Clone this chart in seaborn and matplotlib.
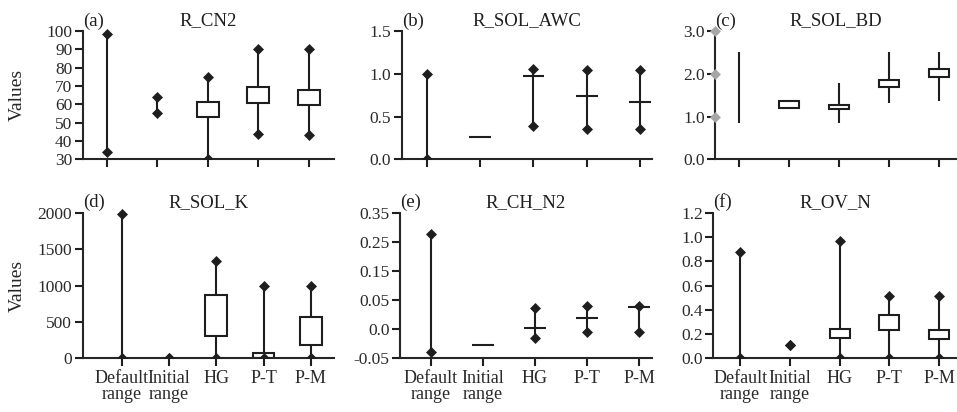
import numpy as np
import pandas as pd
import matplotlib
matplotlib.use("Agg")
import matplotlib.pyplot as plt
from matplotlib.transforms import Bbox, TransformedBbox
import seaborn as sns

nan = np.nan
groups = ["Default\nrange", "Initial\nrange", "HG", "P-T", "P-M"]

# (a) R_CN2 : whisker ends and box edges per group (nan = no box)
cn2_low = [34.2, 55.1, 30.0, 43.6, 43.3]
cn2_q1 = [nan, nan, 52.9, 60.9, 59.5]
cn2_q3 = [nan, nan, 61.4, 69.3, 67.8]
cn2_high = [98.2, 63.8, 75.1, 90.2, 90.0]
cn2_marked = [True, True, True, True, True]

# (b) R_SOL_AWC
awc_low = [0.0, 0.266, 0.39, 0.36, 0.36]
awc_q1 = [nan, 0.266, 0.977, 0.744, 0.668]
awc_q3 = [nan, 0.266, 0.977, 0.744, 0.668]
awc_high = [1.0, 0.266, 1.05, 1.04, 1.04]
awc_marked = [True, False, True, True, True]

# (c) R_SOL_BD
bd_low = [0.855, 1.19, 0.84, 1.32, 1.36]
bd_q1 = [nan, 1.19, 1.17, 1.70, 1.92]
bd_q3 = [nan, 1.36, 1.27, 1.85, 2.10]
bd_high = [2.51, 1.36, 1.79, 2.50, 2.50]
bd_marked = [False, False, False, False, False]
bd_axis_marks = [1.0, 2.0, 3.0]

# (d) R_SOL_K
k_low = [0, 0, 0, 0, 0]
k_q1 = [nan, nan, 311, 10, 183]
k_q3 = [nan, nan, 870, 66, 563]
k_high = [1985, 0, 1336, 1000, 1000]
k_marked = [True, True, True, True, True]

# (e) R_CH_N2 (uneven axis)
ch_low = [-0.0386, -0.028, -0.0157, -0.0055, -0.0052]
ch_q1 = [nan, -0.028, 0.002, 0.0198, 0.038]
ch_q3 = [nan, -0.028, 0.002, 0.0198, 0.038]
ch_high = [0.2756, -0.028, 0.0358, 0.039, 0.039]
ch_marked = [True, False, True, True, True]
ch_ticks = [-0.05, 0.0, 0.05, 0.15, 0.25, 0.35]
ch_ticklabels = ["-0.05", "0.0", "0.05", "0.15", "0.25", "0.35"]

# (f) R_OV_N
ov_low = [0.0, 0.107, 0.0, 0.0, 0.0]
ov_q1 = [nan, nan, 0.164, 0.236, 0.159]
ov_q3 = [nan, nan, 0.241, 0.356, 0.236]
ov_high = [0.879, 0.107, 0.967, 0.51, 0.51]
ov_marked = [True, True, True, True, True]

INK = "#1e1e1e"
W, H = 957, 412

sns.set_theme(style="ticks")
plt.rcParams["font.family"] = ["Liberation Serif", "DejaVu Serif"]
plt.rcParams["axes.linewidth"] = 1.5
plt.rcParams["text.color"] = INK


def draw_panel(ax, low, q1, q3, high, marked, width):
    rows = []
    for g, lo, a, b, hi in zip(groups, low, q1, q3, high):
        if np.isnan(a):
            continue
        for v in (lo, a, (a + b) / 2, b, hi):
            rows.append((g, v))
    box_df = pd.DataFrame(rows, columns=["group", "value"])
    sns.boxplot(data=box_df, x="group", y="value", order=groups, ax=ax,
                whis=(0, 100), width=width, color="white", saturation=1,
                linecolor=INK, linewidth=1.5, showcaps=False, showfliers=False,
                medianprops={"visible": False})
    # plain ranges (no box)
    idx = [i for i, a in enumerate(q1) if np.isnan(a)]
    ax.vlines(idx, [low[i] for i in idx], [high[i] for i in idx],
              color=INK, lw=1.5, zorder=2)
    pts = pd.DataFrame([(g, v) for g, m, lo, hi in zip(groups, marked, low, high)
                        if m for v in (lo, hi)], columns=["group", "value"])
    if len(pts):
        n_before = len(ax.collections)
        sns.stripplot(data=pts, x="group", y="value", order=groups, ax=ax,
                      jitter=False, marker="D", size=5.6, color=INK,
                      linewidth=0, zorder=4)
        # cut at the x axis only, let the top overflow
        clip = TransformedBbox(Bbox([[-0.1, 0], [1.1, 1.2]]), ax.transAxes)
        for coll in ax.collections[n_before:]:
            coll.set_clip_box(clip)


fig = plt.figure(figsize=(W / 100, H / 100), dpi=100)

panels = [
    # pixel box (x0, x1, top, bottom), xlim, ylim, letter, title, data, width
    ((82.7, 334, 31, 159.3), (-0.48, 4.5), (30, 100), "(a)", "R_CN2",
     (cn2_low, cn2_q1, cn2_q3, cn2_high, cn2_marked), 0.43),
    ((401.7, 651.7, 31, 159.3), (-0.475, 4.22), (0, 1.5), "(b)", "R_SOL_AWC",
     (awc_low, awc_q1, awc_q3, awc_high, awc_marked), 0.41),
    ((715, 957, 31, 159.3), (-0.48, 4.36), (0, 3.0), "(c)", "R_SOL_BD",
     (bd_low, bd_q1, bd_q3, bd_high, bd_marked), 0.39),
    ((82.7, 334, 212.7, 358.3), (-0.825, 4.49), (0, 2000), "(d)", "R_SOL_K",
     (k_low, k_q1, k_q3, k_high, k_marked), 0.46),
    ((400, 651.7, 212.7, 358.3), (-0.59, 4.24), (-0.05, 0.35), "(e)", "R_CH_N2",
     (ch_low, ch_q1, ch_q3, ch_high, ch_marked), 0.42),
    ((713.3, 957, 212.7, 358.3), (-0.54, 4.36), (0, 1.2), "(f)", "R_OV_N",
     (ov_low, ov_q1, ov_q3, ov_high, ov_marked), 0.40),
]

yticks = [
    np.arange(30, 101, 10),
    [0.0, 0.5, 1.0, 1.5],
    [0.0, 1.0, 2.0, 3.0],
    [0, 500, 1000, 1500, 2000],
    ch_ticks,
    [0.0, 0.2, 0.4, 0.6, 0.8, 1.0, 1.2],
]
ylabels = [
    [str(v) for v in range(30, 101, 10)],
    ["0.0", "0.5", "1.0", "1.5"],
    ["0.0", "1.0", "2.0", "3.0"],
    ["0", "500", "1000", "1500", "2000"],
    ch_ticklabels,
    ["0.0", "0.2", "0.4", "0.6", "0.8", "1.0", "1.2"],
]

for k, (box, xl, yl, letter, title, data, width) in enumerate(panels):
    x0, x1, top, bot = box
    ax = fig.add_axes([x0 / W, 1 - bot / H, (x1 - x0) / W, (bot - top) / H])
    if letter == "(e)":
        idx = np.arange(len(ch_ticks), dtype=float)
        ax.set_yscale("function", functions=(
            lambda v: np.interp(v, ch_ticks, idx),
            lambda i: np.interp(i, idx, ch_ticks)))
    draw_panel(ax, *data, width)
    if letter == "(c)":
        ax.scatter([0] * len(bd_axis_marks), bd_axis_marks, marker="D", s=31,
                   color="#a6a6a6", linewidths=0, clip_on=False, zorder=5,
                   transform=ax.get_yaxis_transform())
    ax.set_xlim(*xl)
    ax.set_ylim(*yl)
    ax.set_yticks(yticks[k])
    ax.set_yticklabels(ylabels[k])
    ax.set_xlabel("")
    ax.set_ylabel("")
    sns.despine(ax=ax)
    ax.tick_params(direction="out", length=6, width=1.5, color=INK,
                   labelsize=12.5, labelcolor="#2a2a2a", pad=1.5)
    ax.tick_params(axis="x", labelsize=13, pad=2.5)
    if k < 3:
        ax.tick_params(axis="x", labelbottom=False)
    else:
        for t in ax.get_xticklabels():
            t.set_linespacing(0.9)
    ax.set_title(title, fontsize=13.5, pad=4)
    ax.set_title(letter, loc="left", fontsize=13.5, pad=4)
    if k in (0, 3):
        ax.set_ylabel("Values", fontsize=14)
        ax.yaxis.set_label_coords(-0.225, 0.5)

fig.savefig("out.png", dpi=100)
